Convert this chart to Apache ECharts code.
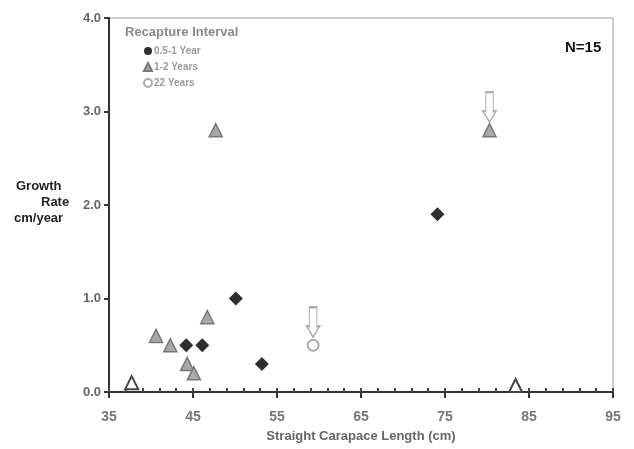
<!DOCTYPE html>
<html>
<head>
<meta charset="utf-8">
<script src="https://cdn.jsdelivr.net/npm/echarts@6/dist/echarts.min.js"></script>
<style>
  html, body { margin: 0; padding: 0; background: #fff; }
  #chart { width: 634px; height: 449px; }
</style>
</head>
<body>
<div id="chart"></div>
<script>
// recapture interval 0.5-1 year
const shortX = [44.2, 46.1, 50.1, 53.2, 74.1]
const shortY = [0.5, 0.5, 1.0, 0.3, 1.9]
// 1-2 years (filled)
const midX = [40.6, 42.3, 44.3, 45.1, 46.7, 47.7, 80.3]
const midY = [0.6, 0.5, 0.3, 0.2, 0.8, 2.8, 2.8]
// 1-2 years (open)
const midOpenX = [37.7, 83.4]
const midOpenY = [0.1, 0.07]
// 22 years
const longX = [59.3]
const longY = [0.5]
// arrows point at these
const arrowX = [59.3, 80.3]
const arrowY = [0.5, 2.8]

const xTicks = [35, 45, 55, 65, 75, 85, 95]
const yTicks = [0, 1, 2, 3, 4]

const zip = (xs, ys) => xs.map((x, i) => [x, ys[i]])
const font = 'Liberation Sans, Arial, sans-serif'
const arrowPath = 'path://M2,0 L10,0 L10,19 L13,19 L6,30 L-1,19 L2,19 Z'

const chart = echarts.init(document.getElementById('chart'))
const option = {
  backgroundColor: '#fff',
  animation: false,
  textStyle: { fontFamily: font },
  title: {
    text: 'Recapture Interval',
    left: 120,
    top: 21,
    textStyle: { fontSize: 13, fontWeight: 'bold', color: '#8a8a8a', fontFamily: font }
  },
  legend: {
    orient: 'vertical',
    left: 138,
    top: 41,
    itemWidth: 8,
    itemHeight: 8,
    itemGap: 6,
    textStyle: { fontSize: 10, fontWeight: 'bold', color: '#9a9a9a', fontFamily: font, padding: [0, 0, 0, -3] },
    data: [
      { name: '0.5-1 Year', icon: 'circle' },
      { name: '1-2 Years', icon: 'triangle' },
      { name: '22 Years', icon: 'emptyCircle' }
    ]
  },
  graphic: [
    {
      type: 'text',
      left: 565,
      top: 40,
      style: { text: 'N=15', font: 'bold 15px ' + font, fill: '#111' }
    },
    {
      type: 'text',
      left: 16,
      top: 180,
      style: { text: 'Growth', font: 'bold 13px ' + font, fill: '#222' }
    },
    {
      type: 'text',
      left: 41,
      top: 196,
      style: { text: 'Rate', font: 'bold 13px ' + font, fill: '#222' }
    },
    {
      type: 'text',
      left: 14,
      top: 212,
      style: { text: 'cm/year', font: 'bold 13px ' + font, fill: '#222' }
    }
  ],
  grid: {
    left: 109,
    right: 21,
    top: 18,
    bottom: 57,
    show: true,
    borderColor: '#999',
    borderWidth: 1
  },
  xAxis: [
    {
      type: 'value',
      min: 35,
      max: 95,
      interval: 10,
      name: 'Straight Carapace Length (cm)',
      nameLocation: 'middle',
      nameGap: 38,
      nameTextStyle: { fontSize: 13, fontWeight: 'bold', color: '#666', fontFamily: font },
      axisLine: { show: true, lineStyle: { color: '#333', width: 2 } },
      axisTick: { show: true, length: 6, lineStyle: { color: '#333', width: 2 } },
      axisLabel: {
        fontSize: 14, fontWeight: 'bold', color: '#777', margin: 18,
        formatter: v => (xTicks.includes(v) ? String(v) : '')
      },
      splitLine: { show: false }
    },
    {
      type: 'value',
      position: 'bottom',
      min: 35,
      max: 95,
      interval: 2,
      axisLine: { show: false },
      axisTick: { show: true, inside: true, length: 4, lineStyle: { color: '#444', width: 2 } },
      axisLabel: { show: false },
      splitLine: { show: false }
    }
  ],
  yAxis: {
    type: 'value',
    min: 0,
    max: 4,
    interval: 1,
    axisLine: { show: true, lineStyle: { color: '#333', width: 2 } },
    axisTick: { show: true, length: 5, lineStyle: { color: '#333', width: 2 } },
    axisLabel: {
      fontSize: 13, fontWeight: 'bold', color: '#666', margin: 8,
      formatter: v => (yTicks.includes(v) ? v.toFixed(1) : '')
    },
    splitLine: { show: false }
  },
  series: [
    {
      name: 'arrows',
      type: 'scatter',
      symbol: arrowPath,
      symbolSize: [13, 30],
      symbolOffset: [0, -23],
      itemStyle: { color: '#fff', borderColor: '#999', borderWidth: 1.5 },
      data: zip(arrowX, arrowY),
      z: 1
    },
    {
      name: '0.5-1 Year',
      type: 'scatter',
      symbol: 'diamond',
      symbolSize: 14,
      itemStyle: { color: '#2e2e2e', opacity: 1 },
      data: zip(shortX, shortY),
      z: 3
    },
    {
      name: '1-2 Years',
      type: 'scatter',
      symbol: 'triangle',
      symbolSize: 13,
      itemStyle: { color: '#a8a8a8', borderColor: '#777', borderWidth: 1.5, opacity: 1 },
      data: zip(midX, midY),
      z: 3
    },
    {
      name: '1-2 Years',
      type: 'scatter',
      symbol: 'triangle',
      symbolSize: 13,
      itemStyle: { color: '#fff', borderColor: '#444', borderWidth: 2, opacity: 1 },
      data: zip(midOpenX, midOpenY),
      z: 3
    },
    {
      name: '22 Years',
      type: 'scatter',
      symbol: 'emptyCircle',
      symbolSize: 11,
      itemStyle: { color: '#aaa', borderColor: '#aaa', borderWidth: 2, opacity: 1 },
      data: zip(longX, longY),
      z: 3
    }
  ]
}
chart.setOption(option)
</script>
</body>
</html>
